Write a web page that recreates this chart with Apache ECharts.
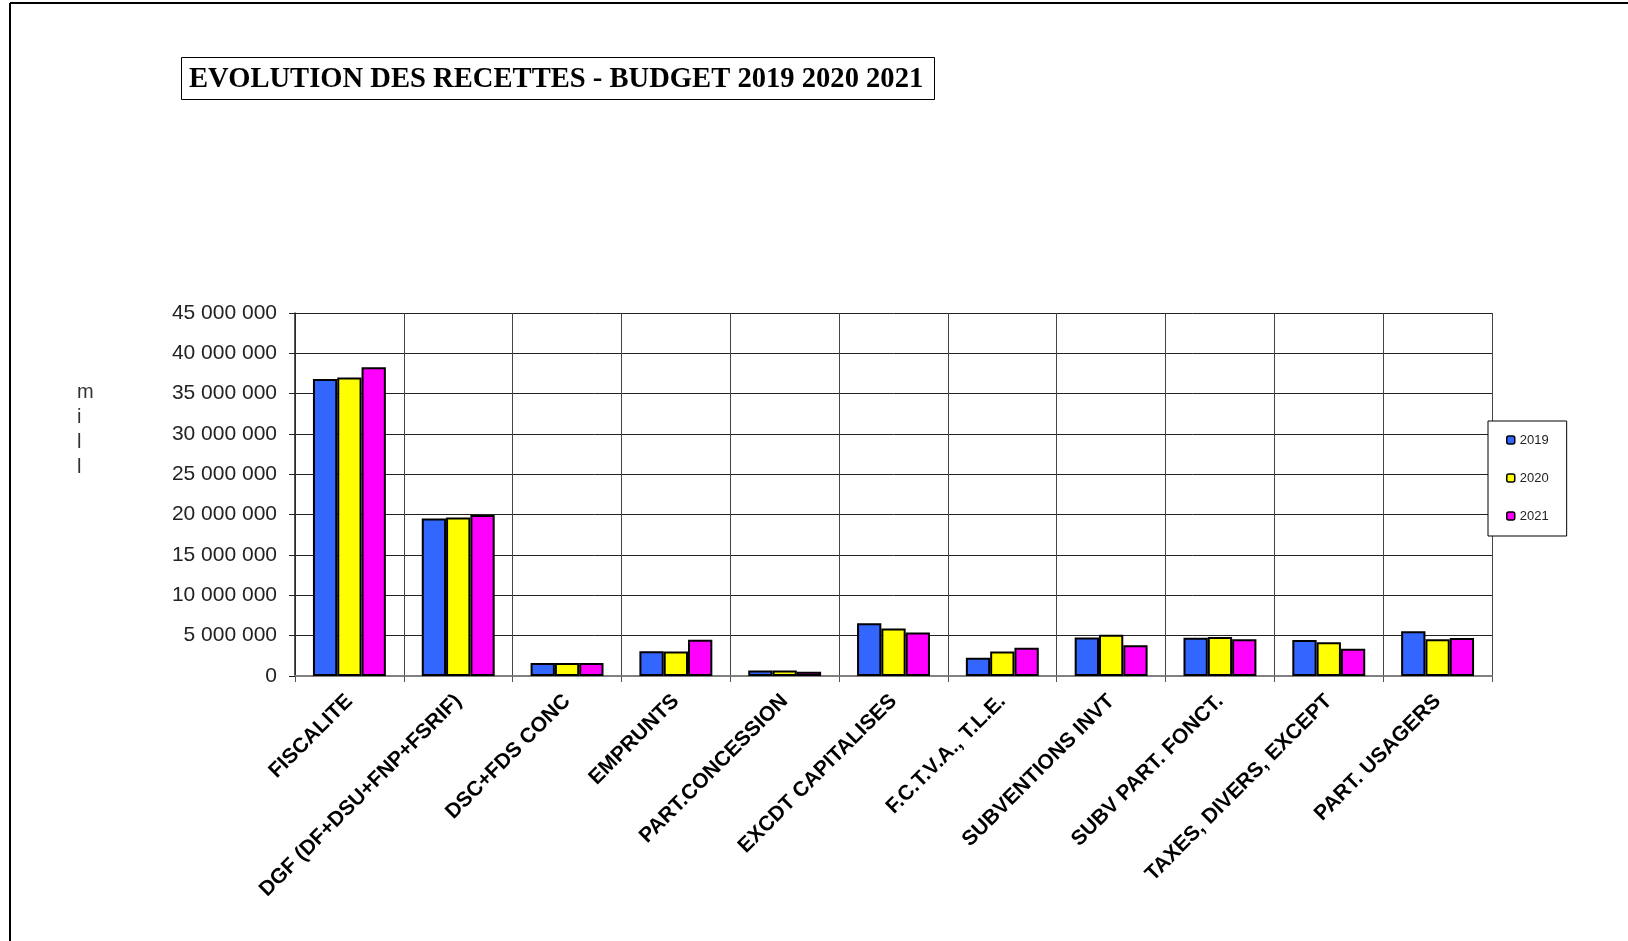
<!DOCTYPE html>
<html>
<head>
<meta charset="utf-8">
<title>Evolution des recettes</title>
<script src="https://cdn.jsdelivr.net/npm/echarts@6/dist/echarts.min.js"></script>
<style>
  html, body { margin: 0; padding: 0; background: #fff; }
  #chart { width: 1628px; height: 941px; }
</style>
</head>
<body>
<div id="chart"></div>
<script>
const categories = [
  'FISCALITE',
  'DGF (DF+DSU+FNP+FSRIF)',
  'DSC+FDS CONC',
  'EMPRUNTS',
  'PART.CONCESSION',
  'EXCDT CAPITALISES',
  'F.C.T.V.A., T.L.E.',
  'SUBVENTIONS INVT',
  'SUBV PART. FONCT.',
  'TAXES, DIVERS, EXCEPT',
  'PART. USAGERS'
]
const years = ['2019', '2020', '2021']
const values2019 = [36830000, 19530000, 1600000, 3080000, 680000, 6550000, 2260000, 4780000, 4750000, 4450000, 5560000]
const values2020 = [37000000, 19650000, 1600000, 3050000, 680000, 5900000, 3040000, 5100000, 4820000, 4170000, 4570000]
const values2021 = [38270000, 19950000, 1600000, 4500000, 520000, 5400000, 3500000, 3800000, 4570000, 3380000, 4700000]
const colors = ['#3366ff', '#ffff00', '#ff00ff']

function spaced(v) {
  return String(v).replace(/\B(?=(\d{3})+(?!\d))/g, ' ')
}

const chart = echarts.init(document.getElementById('chart'))

const series = [values2019, values2020, values2021].map((data, i) => {
  return {
    name: years[i],
    type: 'bar',
    data: data,
    barGap: '0%',
    barCategoryGap: '33%',
    itemStyle: {
      color: colors[i],
      borderColor: '#000',
      borderWidth: 2
    }
  }
})

const option = {
  animation: false,
  backgroundColor: '#fff',
  title: {
    text: 'EVOLUTION DES RECETTES - BUDGET 2019 2020 2021',
    left: 181,
    top: 57,
    padding: [8, 11, 6, 8],
    borderColor: '#000',
    borderWidth: 1,
    textStyle: {
      fontFamily: '"Liberation Serif", "Times New Roman", serif',
      fontWeight: 'bold',
      fontSize: 28.6,
      color: '#000'
    }
  },
  legend: {
    orient: 'vertical',
    left: 1488,
    top: 421,
    data: years,
    padding: [12, 18, 13, 18],
    itemGap: 24,
    itemWidth: 8,
    itemHeight: 8,
    itemTextGap: 1,
    backgroundColor: '#fff',
    borderColor: '#000',
    borderWidth: 1,
    textStyle: {
      fontFamily: '"Liberation Sans", Arial, sans-serif',
      fontSize: 13,
      lineHeight: 14,
      color: '#222'
    },
    itemStyle: {
      borderColor: '#000',
      borderWidth: 1.5
    }
  },
  grid: {
    left: 295,
    right: 136,
    top: 313,
    bottom: 265
  },
  xAxis: {
    type: 'category',
    data: categories,
    axisLine: { lineStyle: { color: '#808080', width: 2 } },
    axisTick: { show: true, length: 6, interval: 0, lineStyle: { color: '#555' } },
    splitLine: { show: true, interval: 0, lineStyle: { color: '#444', width: 1 } },
    axisLabel: {
      interval: 0,
      rotate: 45,
      margin: 22,
      fontFamily: '"Liberation Sans", Arial, sans-serif',
      fontWeight: 'bold',
      fontSize: 21,
      color: '#000'
    }
  },
  yAxis: {
    type: 'value',
    min: 0,
    max: 45000000,
    interval: 5000000,
    axisLine: { show: true, lineStyle: { color: '#222', width: 1.5 } },
    axisTick: { show: true, length: 6, lineStyle: { color: '#222' } },
    splitLine: { show: true, lineStyle: { color: '#222', width: 1 } },
    axisLabel: {
      margin: 18,
      fontFamily: '"Liberation Sans", Arial, sans-serif',
      fontSize: 21,
      color: '#222',
      formatter: spaced
    }
  },
  graphic: [
    {
      type: 'line',
      shape: { x1: 10, y1: 3, x2: 1628, y2: 3 },
      style: { stroke: '#000', lineWidth: 2 }
    },
    {
      type: 'line',
      shape: { x1: 10, y1: 3, x2: 10, y2: 941 },
      style: { stroke: '#000', lineWidth: 2 }
    },
    {
      type: 'text',
      left: 77,
      top: 380,
      style: {
        text: 'm\ni\nl\nl',
        font: '20px "Liberation Sans", Arial, sans-serif',
        lineHeight: 25,
        align: 'center',
        fill: '#333'
      }
    }
  ],
  series: series
}

chart.setOption(option)
</script>
</body>
</html>
